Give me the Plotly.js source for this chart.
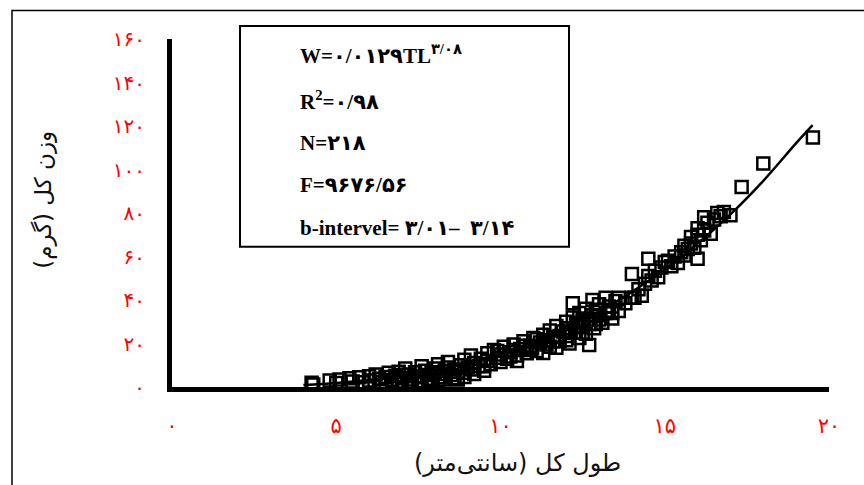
<!DOCTYPE html>
<html>
<head>
<meta charset="utf-8">
<script src="https://cdn.plot.ly/plotly-3.0.1.min.js"></script>
<style>html,body{margin:0;padding:0;background:#fff;}#chart{width:864px;height:485px;}</style>
</head>
<body>
<div id="chart"></div>
<script>
// Observed lengths (cm) and weights (g)
const lengthCm = [4.25,4.3,4.8,5.1,5.0,5.4,5.5,5.7,5.8,6.0,6.0,6.2,6.3,6.4,6.5,
 6.6,6.7,6.8,6.9,7.0,7.0,7.1,7.2,7.3,7.4,7.5,7.6,7.6,7.7,7.8,7.9,8.0,8.0,8.1,8.2,8.3,8.4,8.4,8.5,8.6,8.7,8.8,8.9,8.9,9.0,
 6.5,6.9,7.2,7.5,7.8,8.1,8.3,8.6,8.9,9.2,9.5,7.0,7.4,7.9,8.3,8.7,9.1,
 9.1,9.2,9.34,9.4,9.5,9.6,9.6,9.7,9.8,9.9,10.0,10.0,10.1,10.2,10.3,10.4,10.5,10.5,10.6,10.7,10.8,10.9,11.0,10.96,11.1,11.2,11.3,11.3,11.4,11.5,11.5,11.6,11.7,11.7,11.8,11.9,
 9.9,10.3,10.7,11.1,11.4,11.8,12.1,12.4,12.7,13.0,13.3,10.4,10.9,11.6,12.0,12.5,12.9,13.4,
 12.0,12.0,12.1,12.1,12.2,12.2,12.3,12.3,12.4,12.4,12.5,12.5,12.6,12.6,12.7,12.7,12.8,12.8,12.85,12.9,13.0,13.0,13.1,13.2,13.2,13.3,13.4,13.5,13.6,13.6,13.8,
 14.0,14.08,14.0,14.2,14.3,14.5,14.5,14.4,14.6,14.7,14.8,14.9,15.0,15.1,15.2,15.3,15.4,15.5,15.6,15.6,15.7,15.8,15.8,15.9,16.0,16.0,16.0,16.1,16.2,16.2,16.3,16.4,16.5,16.6,16.7,16.8,17.0,17.34,18.0,19.51];
const weightG = [2.0,1.2,3.0,3.5,1.8,4.0,2.5,4.5,2.2,5.0,3.0,5.8,3.8,2.4,4.6,
 6.5,3.2,5.2,7.0,4.0,2.5,8.5,5.8,3.5,6.8,4.5,9.5,2.8,7.5,5.5,3.8,8.5,6.2,10.5,4.5,7.5,11.5,9.0,5.5,8.0,3.5,10.0,12.5,6.5,9.0,
 2.0,2.2,2.0,2.4,2.6,3.0,3.4,4.0,4.6,6.0,9.5,5.5,5.0,6.8,6.0,7.0,8.0,
 14.5,11.0,9.6,13.0,7.5,15.5,12.0,10.5,17.0,13.5,15.0,11.5,18.5,13.0,16.0,19.5,12.0,14.5,17.5,21.0,15.5,19.0,22.5,18.0,16.5,20.5,24.0,15.6,21.5,18.5,26.0,23.0,18.0,28.0,21.0,25.5,
 16.5,14.0,19.0,22.0,19.5,23.5,25.0,28.0,31.0,33.0,35.0,17.0,17.0,21.0,21.5,25.0,29.0,34.0,
 30.0,23.5,20.0,27.0,32.0,38.5,25.0,29.5,22.5,34.0,27.5,31.5,24.5,36.0,19.3,29.0,33.0,40.0,27.0,35.5,31.0,38.0,29.5,41.0,34.0,37.0,31.5,39.5,41.0,35.0,38.5,
 41.0,41.0,52.0,45.0,42.0,59.0,51.0,47.5,49.0,53.5,50.5,55.0,57.5,58.0,55.5,60.0,57.0,62.0,65.0,60.5,63.5,69.0,66.0,64.0,73.0,59.0,70.0,67.5,78.0,72.0,75.5,70.5,77.0,80.0,78.5,80.5,79.0,91.9,102.8,114.7];
// Fitted curve
const fitLength = [4,5,6,7,8,9,10,11,12,13,14,15,16,17,18,19,19.5];
const fitWeight = [0.9,1.8,3.2,5.2,7.8,11.2,15.5,20.8,27.2,34.8,43.7,54.1,66.0,79.4,94.8,112.1,120.4];
// Tick labels
const xTickVals = [0,5,10,15,20];
const xTickText = ['۰','۵','۱۰','۱۵','۲۰'];
const yTickVals = [0,20,40,60,80,100,120,140,160];
const yTickText = ['۰','۲۰','۴۰','۶۰','۸۰','۱۰۰','۱۲۰','۱۴۰','۱۶۰'];
const statLines = [
 'W=۰/۰۱۲۹TL<sup>۳/۰۸</sup>',
 'R<sup>2</sup>=۰/۹۸',
 'N=۲۱۸',
 'F=۹۶۷۶/۵۶',
 'b-intervel= ۳/۰۱–  ۳/۱۴'
];
const xTitle = 'طول کل (سانتی‌متر)';
const yTitle = 'وزن کل (گرم)';

const L = 172, R = 829, T = 39, B = 387.5;
const W = R - L, H = B - T;
const px = v => (v - L) / W;
const py = v => (B - v) / H;

const statY = [55, 101, 143, 185, 228];
const annotations = statLines.map((t, i) => ({
  xref: 'paper', yref: 'paper', x: px(298), y: py(statY[i]),
  xanchor: 'left', yanchor: 'middle', showarrow: false,
  text: '<b>' + t + '</b>',
  font: {family: 'Liberation Serif, DejaVu Serif, DejaVu Sans', size: 21, color: '#000'}
}));
annotations.push({
  xref: 'paper', yref: 'paper', x: px(517), y: py(464), xanchor: 'center', yanchor: 'middle',
  showarrow: false, text: xTitle,
  font: {family: 'DejaVu Sans, Noto Sans', size: 24, color: '#111'}
});
annotations.push({
  xref: 'paper', yref: 'paper', x: px(44), y: py(200), xanchor: 'center', yanchor: 'middle',
  showarrow: false, text: yTitle, textangle: -90,
  font: {family: 'DejaVu Sans, Noto Sans', size: 23, color: '#111'}
});

const data = [
  {x: lengthCm, y: weightG, type: 'scatter', mode: 'markers', cliponaxis: false,
   marker: {symbol: 'square-open', size: 12, color: '#000', line: {width: 2.5, color: '#000'}},
   showlegend: false},
  {x: fitLength, y: fitWeight, type: 'scatter', mode: 'lines', cliponaxis: false,
   line: {color: '#000', width: 2.5, shape: 'spline'}, showlegend: false}
];

const layout = {
  width: 864, height: 485,
  margin: {l: L, r: 864 - R, t: T, b: 485 - B, pad: 0},
  paper_bgcolor: '#fff', plot_bgcolor: '#fff',
  showlegend: false,
  xaxis: {range: [0, 20], showgrid: false, zeroline: false, showline: true, linewidth: 5, linecolor: '#000',
    tickmode: 'array', tickvals: xTickVals, ticktext: xTickText, ticks: '', ticklabelstandoff: 16,
    tickfont: {family: 'DejaVu Sans, Noto Sans', size: 21, color: '#ff0000'}},
  yaxis: {range: [0, 160], showgrid: false, zeroline: false, showline: true, linewidth: 5, linecolor: '#000',
    tickmode: 'array', tickvals: yTickVals, ticktext: yTickText, ticks: '', ticklabelstandoff: 18,
    tickfont: {family: 'DejaVu Sans, Noto Sans', size: 20, color: '#ff0000'}},
  shapes: [
    {type: 'rect', xref: 'paper', yref: 'paper', x0: px(240), x1: px(569), y0: py(247), y1: py(26),
     line: {color: '#000', width: 2}, fillcolor: '#fff', layer: 'above'},
    {type: 'path', xref: 'paper', yref: 'paper',
     path: 'M ' + px(12) + ',' + py(500) + ' L ' + px(12) + ',' + py(10.5) + ' L ' + px(880) + ',' + py(10.5),
     line: {color: '#000', width: 1.5}}
  ],
  annotations: annotations
};

Plotly.newPlot('chart', data, layout, {displayModeBar: false, staticPlot: true});
</script>
</body>
</html>
